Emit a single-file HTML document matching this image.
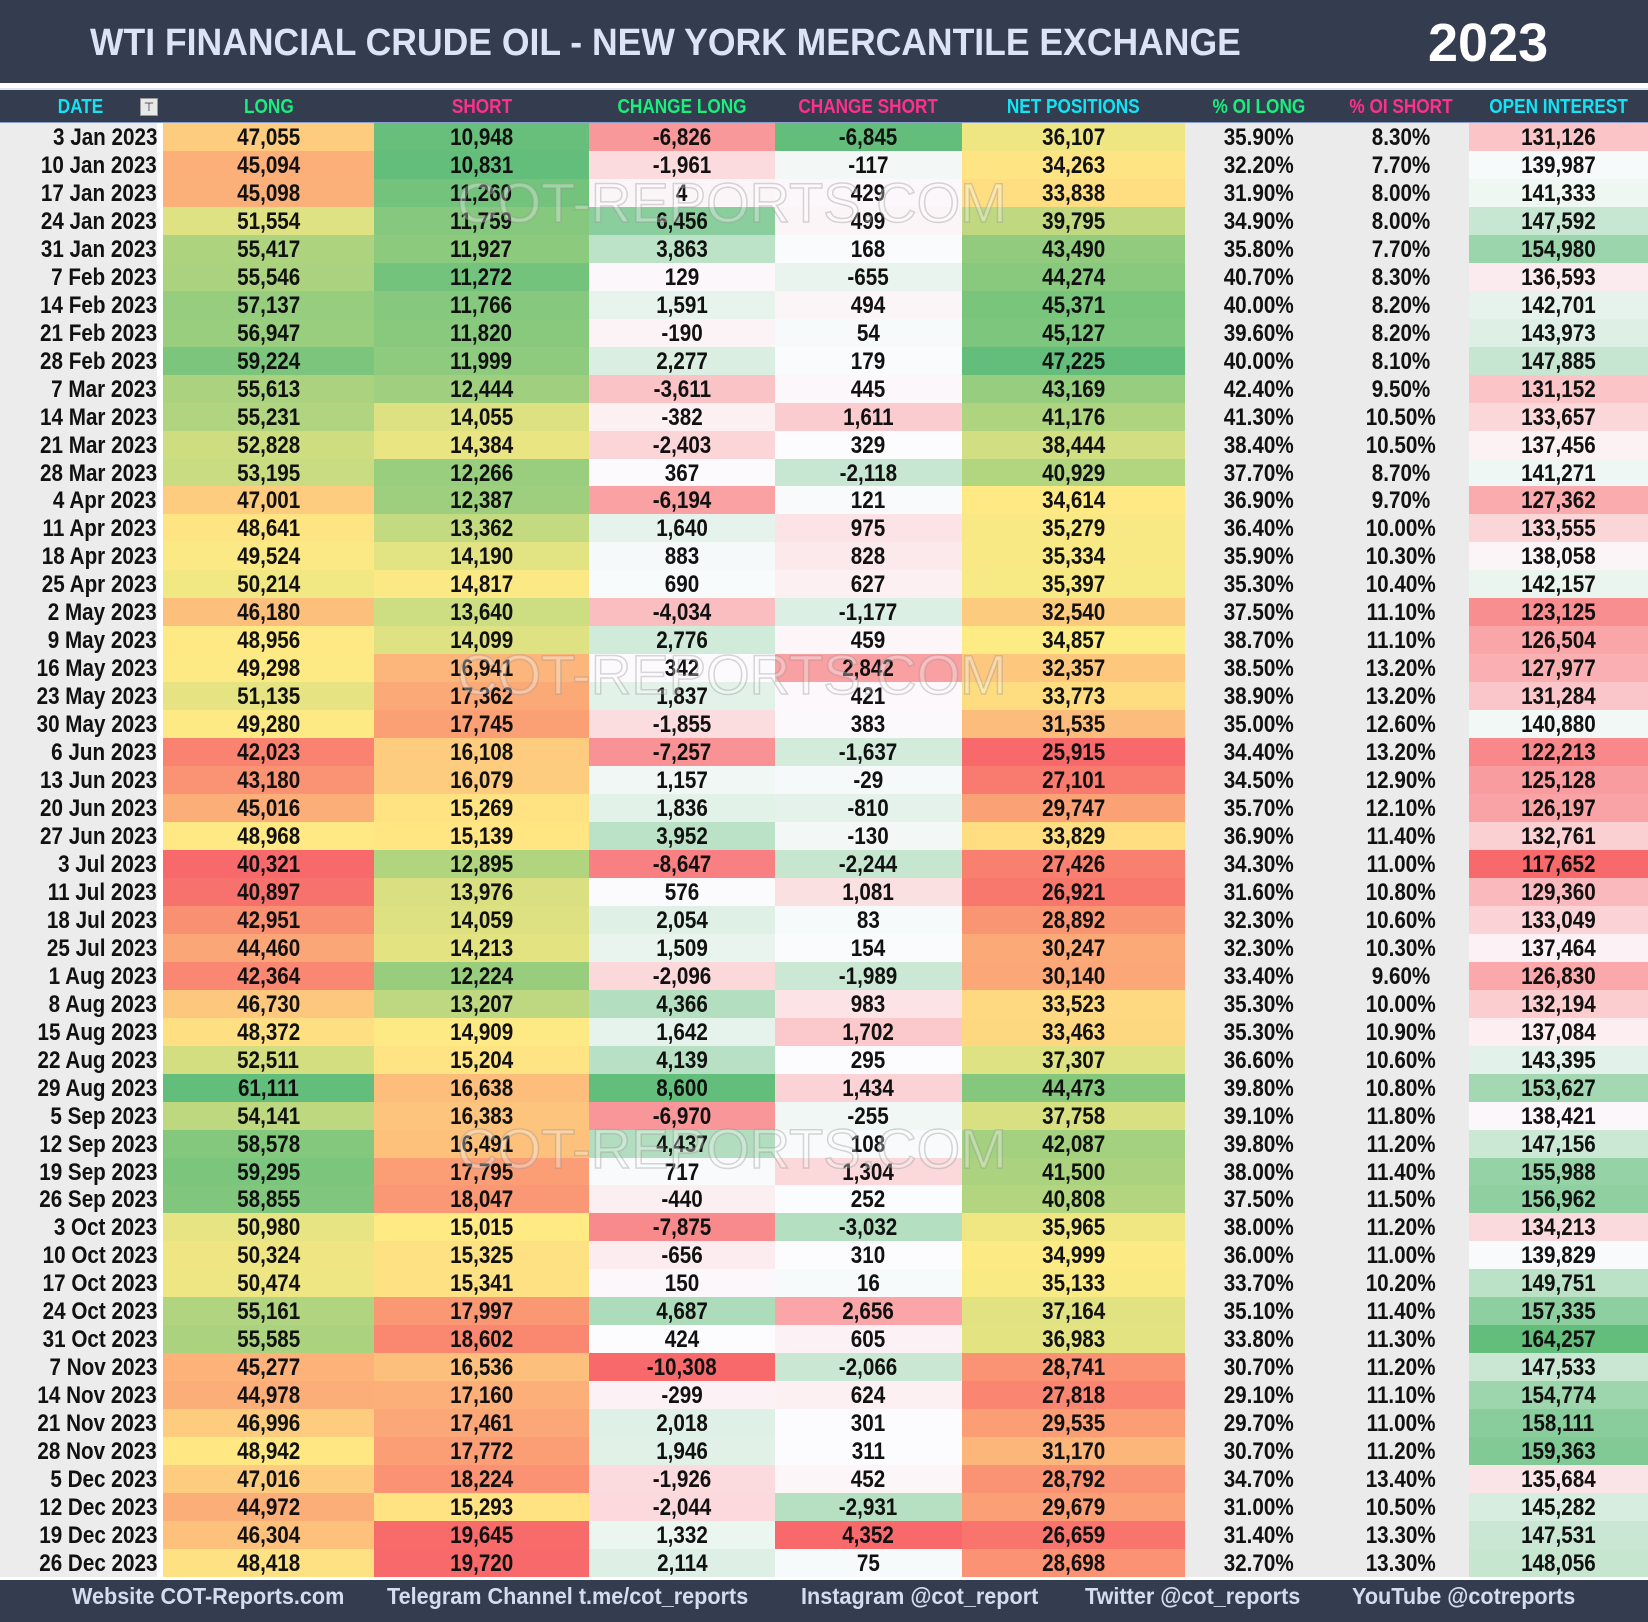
<!DOCTYPE html>
<html><head><meta charset="utf-8">
<style>
html,body{margin:0;padding:0;background:#fff;}
#root{position:relative;width:1648px;height:1622px;overflow:hidden;background:#fff;font-family:"Liberation Sans",sans-serif;}
#title-bar{position:absolute;left:0;top:0;width:1648px;height:83px;background:#343d4f;}
#title{position:absolute;left:90px;top:22px;font:bold 38px "Liberation Sans",sans-serif;color:#dce3f4;white-space:nowrap;transform:scaleX(0.935);transform-origin:left center;}
#year{position:absolute;left:1428px;top:12px;font:bold 54px "Liberation Sans",sans-serif;color:#fff;}
#sep{position:absolute;left:0;top:83px;width:1648px;height:7px;background:#fff;border-bottom:2px solid #dfe4f0;box-sizing:border-box;}
#header{position:absolute;left:0;top:90px;width:1648px;height:33px;background:#343d4f;border-bottom:1px solid #8aa0d0;box-sizing:border-box;}
.hc{position:absolute;top:6px;height:30px;line-height:30px;text-align:center;font:bold 20px "Liberation Sans",sans-serif;white-space:nowrap;}
.hc span,.cell span,.ft span{display:inline-block;transform:scaleX(0.86);}
.cell{position:absolute;text-align:center;font:bold 24px "Liberation Sans",sans-serif;color:#111;white-space:nowrap;}
.cell.r span{transform-origin:right center;}
#footer{position:absolute;left:0;top:1580px;width:1648px;height:42px;background:#343d4f;}
.ft{position:absolute;top:3px;line-height:42px;font:bold 23px "Liberation Sans",sans-serif;color:#d4dcf2;white-space:nowrap;}
.ft span{transform-origin:left center;transform:scaleX(0.94) !important;}
.wm{position:absolute;left:447px;width:570px;text-align:center;font:56px "Liberation Sans",sans-serif;color:rgba(255,255,255,0.3);-webkit-text-stroke:1.5px rgba(140,140,140,0.35);white-space:nowrap;pointer-events:none;}
#filter{position:absolute;left:140px;top:8px;width:18px;height:18px;background:#e8e8e8;border:1px solid #999;box-sizing:border-box;font-size:12px;line-height:16px;text-align:center;color:#333;}
</style></head>
<body>
<div id="root">
  <div id="title-bar">
    <div id="title">WTI FINANCIAL CRUDE OIL - NEW YORK MERCANTILE EXCHANGE</div>
    <div id="year">2023</div>
  </div>
  <div id="sep"></div>
  <div id="header"></div>
  <div id="body"></div>
  <div class="wm" style="top:170px">COT-REPORTS.COM</div>
  <div class="wm" style="top:642px">COT-REPORTS.COM</div>
  <div class="wm" style="top:1116px">COT-REPORTS.COM</div>
  <div id="footer">
    <div class="ft" style="left:72px"><span>Website COT-Reports.com</span></div>
    <div class="ft" style="left:387px"><span>Telegram Channel t.me/cot_reports</span></div>
    <div class="ft" style="left:801px"><span>Instagram @cot_report</span></div>
    <div class="ft" style="left:1085px"><span>Twitter @cot_reports</span></div>
    <div class="ft" style="left:1352px"><span>YouTube @cotreports</span></div>
  </div>
</div>
<script>
const dates=["3 Jan 2023","10 Jan 2023","17 Jan 2023","24 Jan 2023","31 Jan 2023","7 Feb 2023","14 Feb 2023","21 Feb 2023","28 Feb 2023","7 Mar 2023","14 Mar 2023","21 Mar 2023","28 Mar 2023","4 Apr 2023","11 Apr 2023","18 Apr 2023","25 Apr 2023","2 May 2023","9 May 2023","16 May 2023","23 May 2023","30 May 2023","6 Jun 2023","13 Jun 2023","20 Jun 2023","27 Jun 2023","3 Jul 2023","11 Jul 2023","18 Jul 2023","25 Jul 2023","1 Aug 2023","8 Aug 2023","15 Aug 2023","22 Aug 2023","29 Aug 2023","5 Sep 2023","12 Sep 2023","19 Sep 2023","26 Sep 2023","3 Oct 2023","10 Oct 2023","17 Oct 2023","24 Oct 2023","31 Oct 2023","7 Nov 2023","14 Nov 2023","21 Nov 2023","28 Nov 2023","5 Dec 2023","12 Dec 2023","19 Dec 2023","26 Dec 2023"];
const longV=[47055,45094,45098,51554,55417,55546,57137,56947,59224,55613,55231,52828,53195,47001,48641,49524,50214,46180,48956,49298,51135,49280,42023,43180,45016,48968,40321,40897,42951,44460,42364,46730,48372,52511,61111,54141,58578,59295,58855,50980,50324,50474,55161,55585,45277,44978,46996,48942,47016,44972,46304,48418];
const shortV=[10948,10831,11260,11759,11927,11272,11766,11820,11999,12444,14055,14384,12266,12387,13362,14190,14817,13640,14099,16941,17362,17745,16108,16079,15269,15139,12895,13976,14059,14213,12224,13207,14909,15204,16638,16383,16491,17795,18047,15015,15325,15341,17997,18602,16536,17160,17461,17772,18224,15293,19645,19720];
const chLong=[-6826,-1961,4,6456,3863,129,1591,-190,2277,-3611,-382,-2403,367,-6194,1640,883,690,-4034,2776,342,1837,-1855,-7257,1157,1836,3952,-8647,576,2054,1509,-2096,4366,1642,4139,8600,-6970,4437,717,-440,-7875,-656,150,4687,424,-10308,-299,2018,1946,-1926,-2044,1332,2114];
const chShort=[-6845,-117,429,499,168,-655,494,54,179,445,1611,329,-2118,121,975,828,627,-1177,459,2842,421,383,-1637,-29,-810,-130,-2244,1081,83,154,-1989,983,1702,295,1434,-255,108,1304,252,-3032,310,16,2656,605,-2066,624,301,311,452,-2931,4352,75];
const netV=[36107,34263,33838,39795,43490,44274,45371,45127,47225,43169,41176,38444,40929,34614,35279,35334,35397,32540,34857,32357,33773,31535,25915,27101,29747,33829,27426,26921,28892,30247,30140,33523,33463,37307,44473,37758,42087,41500,40808,35965,34999,35133,37164,36983,28741,27818,29535,31170,28792,29679,26659,28698];
const oiLong=[35.9,32.2,31.9,34.9,35.8,40.7,40.0,39.6,40.0,42.4,41.3,38.4,37.7,36.9,36.4,35.9,35.3,37.5,38.7,38.5,38.9,35.0,34.4,34.5,35.7,36.9,34.3,31.6,32.3,32.3,33.4,35.3,35.3,36.6,39.8,39.1,39.8,38.0,37.5,38.0,36.0,33.7,35.1,33.8,30.7,29.1,29.7,30.7,34.7,31.0,31.4,32.7];
const oiShort=[8.3,7.7,8.0,8.0,7.7,8.3,8.2,8.2,8.1,9.5,10.5,10.5,8.7,9.7,10.0,10.3,10.4,11.1,11.1,13.2,13.2,12.6,13.2,12.9,12.1,11.4,11.0,10.8,10.6,10.3,9.6,10.0,10.9,10.6,10.8,11.8,11.2,11.4,11.5,11.2,11.0,10.2,11.4,11.3,11.2,11.1,11.0,11.2,13.4,10.5,13.3,13.3];
const openInt=[131126,139987,141333,147592,154980,136593,142701,143973,147885,131152,133657,137456,141271,127362,133555,138058,142157,123125,126504,127977,131284,140880,122213,125128,126197,132761,117652,129360,133049,137464,126830,132194,137084,143395,153627,138421,147156,155988,156962,134213,139829,149751,157335,164257,147533,154774,158111,159363,135684,145282,147531,148056];
const headers=["DATE","LONG","SHORT","CHANGE LONG","CHANGE SHORT","NET POSITIONS","% OI LONG","% OI SHORT","OPEN INTEREST"];

const colX=[0,163,374,589,775,962,1185,1333,1469,1648];
const hColors=["#12e4f5","#1aef7c","#ff2f8e","#1aef7c","#ff2f8e","#12e4f5","#1aef7c","#ff2f8e","#12e4f5"];
const top0=123, rowH=27.96;
const RED=[248,105,107],YEL=[255,235,132],GRN=[99,190,123],WHT=[252,252,255];
function mix(a,b,t){return 'rgb('+a.map((v,i)=>Math.round(v+(b[i]-v)*t)).join(',')+')';}
function median(arr){const s=[...arr].sort((a,b)=>a-b);const n=s.length;return n%2?s[(n-1)/2]:(s[n/2-1]+s[n/2])/2;}
function scale(arr,lowC,midC,highC){const mn=Math.min(...arr),mx=Math.max(...arr),md=median(arr);
  return v=>v<=md?mix(lowC,midC,(v-mn)/((md-mn)||1)):mix(midC,highC,(v-md)/((mx-md)||1));}
function fmt(v){return (v<0?'-':'')+Math.abs(v).toLocaleString('en-US');}
const hdr=document.getElementById('header');
headers.forEach((h,i)=>{const d=document.createElement('div');d.className='hc';
  
  
  d.style.left=colX[i]+'px';d.style.width=(colX[i+1]-colX[i])+'px';d.style.color=hColors[i];
  if(i===0){d.style.width='160px';}
  const s=document.createElement('span');s.textContent=h;d.appendChild(s);
  hdr.appendChild(d);});
const f=document.createElement('div');f.id='filter';f.textContent='⊤';


hdr.appendChild(f);

const cols=[
 {vals:dates,col:()=> '#ececec',txt:v=>v,align:'right'},
 {vals:longV,col:scale(longV,RED,YEL,GRN),txt:fmt},
 {vals:shortV,col:scale(shortV,GRN,YEL,RED),txt:fmt},
 {vals:chLong,col:scale(chLong,RED,WHT,GRN),txt:fmt},
 {vals:chShort,col:scale(chShort,GRN,WHT,RED),txt:fmt},
 {vals:netV,col:scale(netV,RED,YEL,GRN),txt:fmt},
 {vals:oiLong,col:()=> '#ebebeb',txt:v=>v.toFixed(2)+'%'},
 {vals:oiShort,col:()=> '#ebebeb',txt:v=>v.toFixed(2)+'%'},
 {vals:openInt,col:scale(openInt,RED,WHT,GRN),txt:fmt}
];
const body=document.getElementById('body');
const cnames=['date-cell','long-cell','short-cell','change-long-cell','change-short-cell','net-positions-cell','oi-long-cell','oi-short-cell','open-interest-cell'];
for(let r=0;r<dates.length;r++){
  const y=Math.round(top0+r*rowH), y2=Math.round(top0+(r+1)*rowH);
  cols.forEach((c,i)=>{
    const d=document.createElement('div');d.className='cell'+(c.align==='right'?' r':'');
    
    
    d.style.left=colX[i]+'px';d.style.width=(colX[i+1]-colX[i])+'px';
    d.style.top=y+'px';d.style.height=(y2-y)+'px';d.style.lineHeight=(y2-y+2)+'px';
    d.style.background=c.col(c.vals[r]);
    if(c.align==='right'){d.style.textAlign='right';d.style.width='157px';}
    const s=document.createElement('span');s.textContent=c.txt(c.vals[r]);d.appendChild(s);
    body.appendChild(d);
  });
}
</script>
</body></html>
